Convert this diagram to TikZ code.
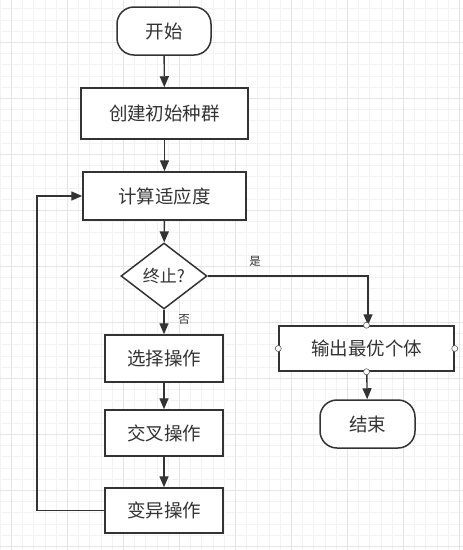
\documentclass[tikz,border=0pt]{standalone}
\usepackage{fontspec}
\setmainfont{Noto Sans CJK SC}
\usetikzlibrary{shapes.geometric,arrows.meta}
\definecolor{ink}{HTML}{333333}
\definecolor{gridminor}{HTML}{F3F3F3}
\definecolor{gridmajor}{HTML}{E4E4E4}
\begin{document}
\begin{tikzpicture}[x=1pt,y=-1pt,
  font=\fontsize{18.5}{21}\selectfont, text=ink,
  box/.style={draw=ink, line width=1.5pt, fill=white, inner sep=0pt},
  term/.style={box, rounded corners=17pt},
  dec/.style={draw=ink, line width=1.5pt, fill=white, diamond, aspect=1.3, inner sep=0pt, minimum width=86pt, minimum height=66pt},
  flow/.style={draw=ink, line width=1.4pt, -{Triangle[length=11pt,width=9pt]}},
  lab/.style={font=\fontsize{11.5}{13}\selectfont, text=ink},
  port/.style={circle, draw=ink!80, fill=white, line width=0.6pt, inner sep=0pt, minimum size=6pt}]
\useasboundingbox (0,0) rectangle (463,550);
\fill[white] (0,0) rectangle (463,550);
\foreach \i in {0,...,42} {
  \draw[gridminor, line width=0.6pt] (11.2*\i,0) -- (11.2*\i,550);
}
\foreach \i in {0,...,50} {
  \draw[gridminor, line width=0.6pt] (0,8.6+11.2*\i) -- (463,8.6+11.2*\i);
}
\foreach \i in {0,...,8} {
  \draw[gridmajor, line width=0.8pt] (11+56*\i,0) -- (11+56*\i,550);
  \draw[gridmajor, line width=0.8pt] (0,42+56*\i-56) -- (463,42+56*\i-56);
}
\draw[gridmajor, line width=0.8pt] (0,490) -- (463,490);
\draw[gridmajor, line width=0.8pt] (0,546) -- (463,546);

\node[term, minimum width=94pt, minimum height=48pt] (start) at (164,31) {开始};
\node[box, minimum width=167pt, minimum height=51pt] (init) at (164.5,113.5) {创建初始种群};
\node[box, minimum width=163pt, minimum height=48pt] (fit) at (164.5,196) {计算适应度};
\node[dec, font=\fontsize{17}{19}\selectfont] (stop) at (164,276) {终止?};
\node[box, minimum width=118pt, minimum height=47pt] (sel) at (164,358.5) {选择操作};
\node[box, minimum width=118pt, minimum height=46pt] (cross) at (164,433) {交叉操作};
\node[box, minimum width=118pt, minimum height=45pt] (mut) at (164,510.5) {变异操作};
\node[box, minimum width=175pt, minimum height=45pt] (out) at (366.5,348.5) {输出最优个体};
\node[term, minimum width=95pt, minimum height=48pt] (end) at (367.5,424) {结束};

\coordinate (turn) at (368,276);
\coordinate (lb) at (37,510.5);
\coordinate (lt) at (37,196);

\draw[flow] (start) -- (init);
\draw[flow] (init) -- (fit);
\draw[flow] (fit) -- (stop);
\draw[flow] (stop) -- (sel);
\draw[flow] (sel) -- (cross);
\draw[flow] (cross) -- (mut);
\draw[flow] (stop.east) -- (turn) -- (out.north -| turn);
\draw[flow] (out) -- (end);
\draw[flow] (mut.west) -- (lb) -- (lt) -- (fit.west);

\node[lab] (yes) at (255,261) {是};
\node[lab] (no) at (184,319) {否};

\node[port] (p1) at (out.north) {};
\node[port] (p2) at (out.south) {};
\node[port] (p3) at (out.west) {};
\node[port] (p4) at (out.east) {};
\end{tikzpicture}
\end{document}
